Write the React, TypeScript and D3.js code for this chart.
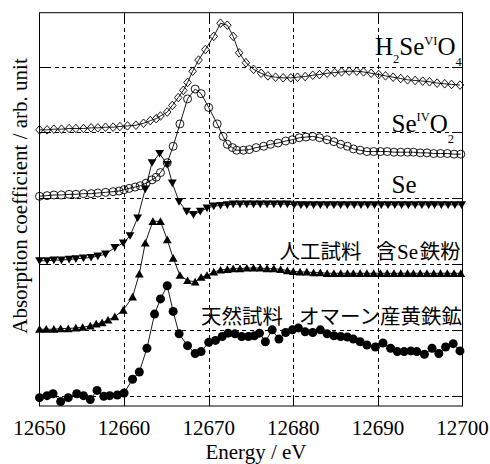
import React from 'react';
import * as d3 from 'd3';

// ---- Axis ticks ----
const xTicks = [12650, 12660, 12670, 12680, 12690, 12700];
const yGrid = [0, 1, 2, 3, 4, 5];

// ---- H2SeVIO4 (open diamonds) ----
const h2seo4E = [12650.0,12650.9,12651.7,12652.6,12653.5,12654.3,12655.2,12656.1,12656.9,12657.8,12658.7,12659.5,12660.4,12661.4,12662.3,12663.1,12663.8,12664.3,12665.1,12665.7,12666.4,12667.0,12667.5,12668.1,12668.8,12669.6,12670.6,12671.4,12672.2,12672.9,12673.6,12674.4,12675.3,12676.2,12677.0,12677.9,12678.8,12679.7,12680.5,12681.4,12682.3,12683.1,12684.0,12684.9,12685.7,12686.6,12687.5,12688.3,12689.2,12690.1,12690.9,12691.8,12692.7,12693.5,12694.4,12695.3,12696.1,12697.0,12697.9,12698.7,12699.7];
const h2seo4V = [4.04,4.04,4.05,4.05,4.06,4.06,4.06,4.07,4.07,4.08,4.08,4.09,4.10,4.11,4.14,4.18,4.21,4.25,4.31,4.41,4.53,4.64,4.76,4.93,5.10,5.26,5.46,5.66,5.63,5.46,5.21,5.06,4.96,4.90,4.86,4.84,4.83,4.83,4.84,4.85,4.87,4.88,4.90,4.91,4.92,4.93,4.93,4.92,4.90,4.88,4.86,4.84,4.82,4.80,4.79,4.78,4.77,4.75,4.74,4.73,4.72];

// ---- SeIVO2 (open circles) ----
const seo2E = [12650.0,12650.9,12651.7,12652.6,12653.5,12654.3,12655.2,12656.1,12656.9,12657.8,12658.7,12659.4,12660.0,12660.6,12661.3,12661.9,12662.6,12663.3,12663.8,12664.3,12665.1,12665.8,12666.6,12667.5,12668.4,12669.1,12670.0,12671.0,12671.7,12672.2,12672.8,12673.3,12674.1,12674.8,12675.6,12676.5,12677.3,12678.2,12679.1,12679.9,12680.7,12681.5,12682.3,12683.1,12684.0,12684.8,12685.6,12686.4,12687.1,12687.9,12688.7,12689.5,12690.3,12691.1,12691.9,12692.7,12693.5,12694.2,12695.0,12695.8,12696.6,12697.4,12698.2,12699.0,12699.8];
const seo2V = [3.03,3.04,3.05,3.05,3.06,3.06,3.07,3.07,3.08,3.09,3.10,3.11,3.13,3.15,3.17,3.19,3.23,3.28,3.32,3.39,3.54,3.79,4.13,4.51,4.66,4.59,4.38,4.13,3.94,3.82,3.77,3.73,3.73,3.74,3.77,3.79,3.82,3.84,3.87,3.89,3.92,3.93,3.94,3.92,3.89,3.86,3.82,3.79,3.75,3.73,3.71,3.71,3.71,3.71,3.70,3.70,3.70,3.70,3.69,3.69,3.68,3.68,3.68,3.67,3.67];

// ---- Se (filled down triangles) ----
const seE = [12650.0,12650.9,12651.7,12652.6,12653.5,12654.3,12655.2,12656.1,12656.9,12657.8,12658.9,12659.9,12660.7,12661.6,12662.5,12663.3,12664.2,12665.1,12665.7,12666.5,12667.4,12668.2,12669.0,12669.8,12670.6,12671.4,12672.2,12672.9,12673.7,12674.5,12675.3,12676.1,12676.9,12677.7,12678.5,12679.3,12680.1,12680.9,12681.6,12682.4,12683.2,12684.0,12684.8,12685.6,12686.4,12687.2,12688.0,12688.8,12689.6,12690.4,12691.2,12692.0,12692.8,12693.6,12694.4,12695.2,12696.0,12696.7,12697.5,12698.3,12699.1,12699.9];
const seV = [2.05,2.05,2.06,2.06,2.07,2.08,2.09,2.10,2.12,2.15,2.25,2.32,2.43,2.70,3.14,3.54,3.68,3.51,3.23,2.95,2.80,2.75,2.80,2.85,2.88,2.89,2.90,2.91,2.91,2.91,2.91,2.91,2.91,2.91,2.91,2.91,2.90,2.90,2.90,2.90,2.90,2.90,2.90,2.90,2.90,2.90,2.90,2.90,2.90,2.90,2.90,2.90,2.90,2.90,2.90,2.90,2.90,2.90,2.90,2.90,2.90,2.90];

// ---- 人工試料 (filled up triangles) ----
const artE = [12650.0,12650.8,12651.7,12652.5,12653.4,12654.3,12655.1,12656.0,12656.7,12657.4,12658.1,12658.9,12659.9,12661.0,12661.8,12662.5,12663.4,12664.3,12665.1,12665.8,12666.6,12667.5,12668.4,12669.1,12669.8,12670.6,12671.4,12672.2,12672.9,12673.7,12674.5,12675.3,12676.1,12676.9,12677.7,12678.5,12679.3,12680.0,12680.8,12681.6,12682.4,12683.2,12684.0,12684.8,12685.6,12686.4,12687.1,12687.9,12688.7,12689.5,12690.3,12691.1,12691.9,12692.7,12693.5,12694.2,12695.0,12695.8,12696.6,12697.4,12698.2,12699.0,12699.8];
const artV = [1.01,1.01,1.01,1.02,1.02,1.03,1.04,1.06,1.09,1.11,1.15,1.20,1.30,1.50,1.85,2.32,2.65,2.65,2.37,2.09,1.83,1.75,1.73,1.80,1.83,1.88,1.91,1.92,1.93,1.93,1.94,1.94,1.94,1.93,1.93,1.92,1.90,1.89,1.88,1.88,1.87,1.87,1.86,1.86,1.86,1.86,1.86,1.86,1.86,1.86,1.86,1.86,1.86,1.86,1.86,1.86,1.86,1.86,1.86,1.86,1.86,1.86,1.86];

// ---- 天然試料 (filled circles) ----
const natE = [12650.0,12650.9,12651.6,12652.5,12653.4,12654.4,12655.2,12656.0,12656.8,12657.6,12658.3,12659.2,12660.0,12661.0,12661.8,12662.7,12663.6,12664.3,12665.1,12665.8,12666.5,12667.5,12668.4,12669.1,12670.0,12670.8,12671.6,12672.3,12673.1,12673.9,12674.7,12675.4,12676.0,12676.7,12677.5,12678.3,12679.1,12679.9,12680.6,12681.4,12682.3,12683.2,12684.0,12684.8,12685.6,12686.4,12687.1,12687.9,12688.7,12689.7,12690.6,12691.5,12692.3,12693.1,12693.9,12694.6,12695.5,12696.4,12697.2,12698.0,12698.9,12699.7];
const natV = [-0.03,0.00,0.03,-0.09,-0.03,0.03,0.00,-0.06,0.08,-0.01,0.00,0.01,0.04,0.25,0.36,0.72,1.24,1.47,1.67,1.28,0.94,0.76,0.64,0.67,0.81,0.84,0.90,0.95,0.94,0.90,0.90,0.91,0.95,0.82,1.00,0.86,0.96,1.00,1.03,0.97,0.96,1.00,0.94,0.91,0.90,0.89,0.86,0.82,0.77,0.74,0.80,0.72,0.67,0.67,0.68,0.67,0.63,0.72,0.64,0.74,0.79,0.68];

const SERIF = "'Liberation Serif', 'DejaVu Serif', serif";
const CJK = "'Noto Sans CJK JP', 'Noto Sans CJK SC', sans-serif";

type Pt = [number, number];
const zipPts = (e: number[], v: number[]): Pt[] =>
  e.slice(0, Math.min(e.length, v.length)).map((d, i) => [d, v[i]] as Pt);

export default function App() {
  const left = 39.5, right = 462.5, top = 12.7, bottom = 406;
  const x = d3.scaleLinear().domain([12650, 12700]).range([left, right]);
  const y = d3.scaleLinear().domain([-0.157, 5.82]).range([bottom, top]);
  const line = d3.line<Pt>().x(d => x(d[0])).y(d => y(d[1]));

  const series = [
    { pts: zipPts(h2seo4E, h2seo4V), kind: 'diamond' },
    { pts: zipPts(seo2E, seo2V), kind: 'ocircle' },
    { pts: zipPts(seE, seV), kind: 'down' },
    { pts: zipPts(artE, artV), kind: 'up' },
    { pts: zipPts(natE, natV), kind: 'fcircle' },
  ];

  const marker = (kind: string, px: number, py: number, key: number) => {
    switch (kind) {
      case 'diamond':
        return <path key={key} d={`M${px},${py - 4.3}L${px + 3.8},${py}L${px},${py + 4.3}L${px - 3.8},${py}Z`} fill="none" stroke="#000" strokeWidth={0.9} />;
      case 'ocircle':
        return <circle key={key} cx={px} cy={py} r={4} fill="none" stroke="#000" strokeWidth={0.9} />;
      case 'down':
        return <path key={key} d={`M${px - 4.4},${py - 3.6}L${px + 4.4},${py - 3.6}L${px},${py + 4.1}Z`} fill="#000" />;
      case 'up':
        return <path key={key} d={`M${px - 4.4},${py + 3.6}L${px + 4.4},${py + 3.6}L${px},${py - 4.1}Z`} fill="#000" />;
      default:
        return <circle key={key} cx={px} cy={py} r={4.5} fill="#000" />;
    }
  };

  const gy = (v: number) => Math.round(y(v)) + 0.5;
  const gx = (v: number) => Math.round(x(v)) + 0.5;
  const serif = { fontFamily: SERIF };
  const cjk = { fontFamily: CJK };

  return (
    <svg width={490} height={464} style={{ position: 'absolute', left: 0, top: 0, background: '#fff' }}>
      <rect x={0} y={0} width={490} height={464} fill="#fff" />
      {/* grid */}
      <g stroke="#000" strokeWidth={1} strokeDasharray="4,3.5" shapeRendering="crispEdges">
        {yGrid.map(v => (
          <line key={'h' + v} x1={left} x2={right} y1={gy(v)} y2={gy(v)} />
        ))}
        {xTicks.slice(1, -1).map(t => (
          <line key={'v' + t} x1={gx(t)} x2={gx(t)} y1={top} y2={bottom} />
        ))}
      </g>
      {/* ticks */}
      <g stroke="#000" strokeWidth={1} shapeRendering="crispEdges">
        {xTicks.slice(1, -1).map(t => (
          <g key={'t' + t}>
            <line x1={gx(t)} x2={gx(t)} y1={bottom} y2={bottom - 10} />
            <line x1={gx(t)} x2={gx(t)} y1={top} y2={top + 10} />
          </g>
        ))}
        {yGrid.map(v => (
          <g key={'ty' + v}>
            <line x1={left} x2={left + 10} y1={gy(v)} y2={gy(v)} />
            <line x1={right} x2={right - 10} y1={gy(v)} y2={gy(v)} />
          </g>
        ))}
      </g>
      {/* frame */}
      <rect x={left} y={top} width={right - left} height={bottom - top} fill="none" stroke="#000" strokeWidth={1} />
      {/* series */}
      {series.map((s, si) => (
        <g key={'s' + si}>
          <path d={line(s.pts) || ''} fill="none" stroke="#000" strokeWidth={0.9} />
          {s.pts.map((p, i) => marker(s.kind, x(p[0]), y(p[1]), i))}
        </g>
      ))}
      {/* tick labels */}
      {xTicks.map(t => (
        <text key={'l' + t} x={x(t)} y={435} textAnchor="middle" style={serif} fontSize={21} fill="#000">{t}</text>
      ))}
      <text x={256} y={458.5} textAnchor="middle" style={serif} fontSize={21} fill="#000">Energy / eV</text>
      <text transform="translate(27.3,196) rotate(-90)" textAnchor="middle" style={serif} fontSize={21} fill="#000">Absorption coefficient / arb. unit</text>
      {/* series labels */}
      <text x={375} y={55} style={serif} fontSize={25} fill="#000">
        H<tspan fontSize={12.5} dy={8}>2</tspan><tspan dy={-8}>Se</tspan><tspan fontSize={12.5} dy={-10}>VI</tspan><tspan dy={10}>O</tspan><tspan fontSize={12.5} dy={11}>4</tspan>
      </text>
      <text x={391.5} y={131.7} style={serif} fontSize={25} fill="#000">
        Se<tspan fontSize={12.5} dy={-11}>IV</tspan><tspan dy={11}>O</tspan><tspan fontSize={12.5} dy={11.5}>2</tspan>
      </text>
      <text x={391.5} y={193.3} style={serif} fontSize={25} fill="#000">Se</text>
      <text y={258.5} style={cjk} fontSize={20.5} fill="#000">
        <tspan x={279.5}>人工試料</tspan>
        <tspan x={376}>含</tspan>
        <tspan x={397} style={serif} fontSize={21}>Se</tspan>
        <tspan x={419.8}>鉄粉</tspan>
      </text>
      <text y={323.5} style={cjk} fontSize={20.5} fill="#000">
        <tspan x={201}>天然試料</tspan>
        <tspan x={299}>オマーン産黄鉄鉱</tspan>
      </text>
    </svg>
  );
}
